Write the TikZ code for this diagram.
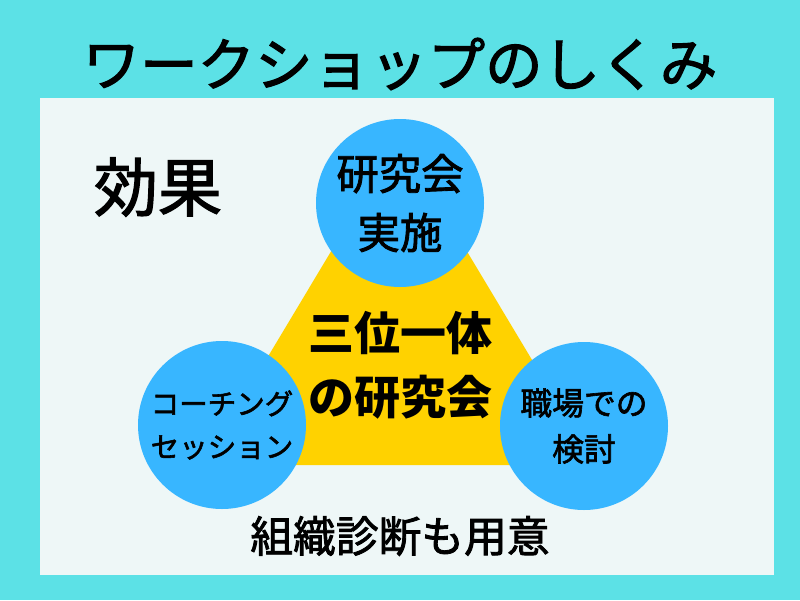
\documentclass[tikz,border=0pt]{standalone}
\usepackage{fontspec}
\setmainfont{Noto Sans CJK JP}
\newfontfamily\medjp{Noto Sans CJK JP}[FakeBold=2]
\definecolor{bgcyan}{HTML}{5CE1E6}
\definecolor{panelc}{HTML}{EEF7F7}
\definecolor{triy}{HTML}{FFD200}
\definecolor{bubc}{HTML}{38B6FF}
\begin{document}
\begin{tikzpicture}[x=1pt,y=-1pt,
  bubble/.style={circle,fill=bubc,minimum size=168pt,inner sep=0pt,align=center,text=black},
  lbl/.style={inner sep=0pt,align=center,text=black}]
\useasboundingbox (0,0) rectangle (800,600);
\fill[bgcyan] (0,0) rectangle (800,600);
\fill[panelc] (40,98) rectangle (774,575);
\node[lbl,font=\medjp\fontsize{57.5}{60}\selectfont] (title) at (400,64) {ワークショップのしくみ};
\node[lbl,font=\medjp\fontsize{64}{70}\selectfont] (effect) at (158,187) {効果};
\coordinate (ta) at (399,138);
\coordinate (tl) at (203,465);
\coordinate (tr) at (595,465);
\fill[triy] (ta) -- (tl) -- (tr) -- cycle;
\node[lbl,font=\fontsize{46}{64}\selectfont\bfseries] (center) at (400,365) {三位一体\\の研究会};
\node[bubble,font=\medjp\fontsize{42.4}{59}\selectfont] (topc) at (400,203) {研究会\\実施};
\node[bubble,font=\medjp\fontsize{28.5}{43}\selectfont] (leftc) at (222,425) {コーチング\\セッション};
\node[bubble,font=\medjp\fontsize{31.8}{46}\selectfont] (rightc) at (584,426) {職場での\\検討};
\node[lbl,font=\medjp\fontsize{42.75}{50}\selectfont] (bottom) at (400,536) {組織診断も用意};
\end{tikzpicture}
\end{document}
